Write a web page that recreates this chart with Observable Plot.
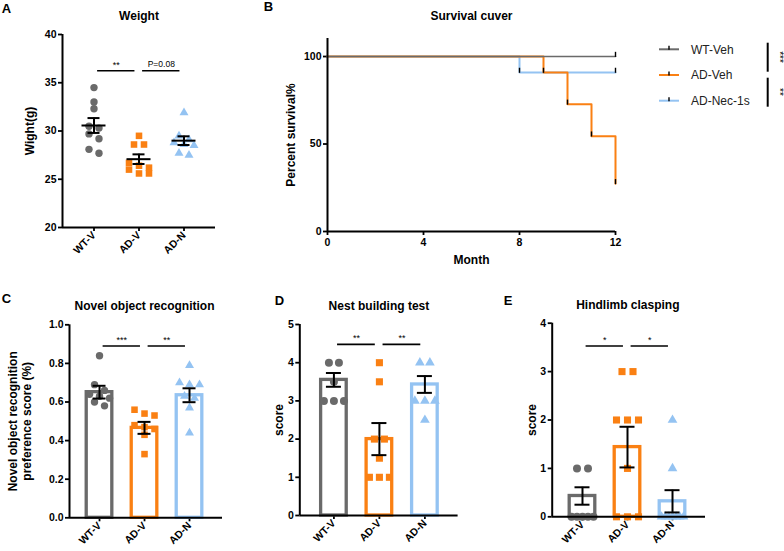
<!DOCTYPE html>
<html><head><meta charset="utf-8">
<script src="https://cdn.jsdelivr.net/npm/d3@7"></script>
<script src="https://cdn.jsdelivr.net/npm/@observablehq/plot@0.6"></script>
<style>
html,body{margin:0;padding:0;background:#fff;}
#fig{position:relative;width:784px;height:551px;overflow:hidden;background:#fff;font-family:"Liberation Sans",Arial,sans-serif;}
#fig .p{position:absolute;}
#fig svg{overflow:visible;max-width:none;}
#fig g[aria-label*="axis"] path,#fig g[aria-label*="axis"] line{stroke-width:1.8px;}
</style></head>
<body><div id="fig"></div>
<script>
// ---------- shared categories / styles ----------
const groups = ["WT-V", "AD-V", "AD-N"];
const colors = ["#6a6a6a", "#fa8013", "#94c3f2"];
const symbols = ["circle", "square", "triangle"];

// ---------- A: Weight ----------
const weightWT  = [34.5, 33.0, 32.3, 30.5, 30.3, 29.7, 29.2, 28.1, 27.7];
const weightADV = [29.5, 28.6, 28.6, 26.7, 26.4, 26.2, 26.0, 25.6, 25.6];
const weightADN = [31.9, 29.5, 29.1, 28.8, 28.6, 28.5, 27.7, 27.5];
const weightMean = [30.57, 27.08, 29.0];
const weightSem  = [0.77, 0.50, 0.45];
const weightTicks = [20, 25, 30, 35, 40];
const weightSig = [{from: 0, to: 1, label: "**"}, {from: 1, to: 2, label: "P=0.08"}];
const weightSigY = 36.25;

// ---------- B: Survival ----------
const survSeries = ["WT-Veh", "AD-Veh", "AD-Nec-1s"];
const survColors = ["#6a6a6a", "#fa8013", "#94c3f2"];
const survMonthWT  = [0, 12];
const survPctWT    = [100, 100];
const survMonthADV = [0, 9, 10, 11, 12];
const survPctADV   = [100, 90.9, 72.7, 54.5, 27.3];
const survMonthADN = [0, 8, 12];
const survPctADN   = [100, 90.9, 90.9];
const survXTicks = [0, 4, 8, 12];
const survYTicks = [0, 50, 100];
const survSigLabels = ["***", "**"];

// ---------- C: Novel object recognition ----------
const norWT  = [0.84, 0.69, 0.66, 0.64, 0.63, 0.62, 0.60, 0.58];
const norADV = [0.56, 0.54, 0.53, 0.48, 0.47, 0.46, 0.43, 0.33];
const norADN = [0.79, 0.70, 0.69, 0.69, 0.63, 0.62, 0.57, 0.44];
const norMean = [0.651, 0.466, 0.635];
const norSem  = [0.033, 0.031, 0.036];
const norTicks = [0, 0.2, 0.4, 0.6, 0.8, 1.0];
const norSig = [{from: 0, to: 1, label: "***"}, {from: 1, to: 2, label: "**"}];
const norSigY = 0.89;

// ---------- D: Nest building ----------
const nestWT  = [4, 4, 3.5, 3, 3, 3];
const nestADV = [4, 3.5, 2, 2, 1.5, 1, 1, 1];
const nestADN = [4, 4, 3, 3, 3, 2.5];
const nestMean = [3.55, 2.0, 3.43];
const nestSem  = [0.18, 0.42, 0.22];
const nestTicks = [0, 1, 2, 3, 4, 5];
const nestSig = [{from: 0, to: 1, label: "**"}, {from: 1, to: 2, label: "**"}];
const nestSigY = 4.48;

// ---------- E: Hindlimb clasping ----------
const claspWT  = [1, 1, 0, 0, 0, 0, 0];
const claspADV = [3, 3, 2, 2, 2, 1, 0, 0, 0];
const claspADN = [2, 1, 0, 0, 0, 0, 0, 0, 0];
const claspMean = [0.43, 1.44, 0.32];
const claspSem  = [0.18, 0.42, 0.23];
const claspTicks = [0, 1, 2, 3, 4];
const claspSig = [{from: 0, to: 1, label: "*"}, {from: 1, to: 2, label: "*"}];
const claspSigY = 3.53;

const FONT = "'Liberation Sans', Arial, Helvetica, sans-serif";
const root = document.getElementById("fig");
function place(el, left, top, w, h) {
  const d = document.createElement("div");
  d.className = "p";
  d.style.left = left + "px"; d.style.top = top + "px";
  d.style.width = w + "px"; d.style.height = h + "px";
  d.appendChild(el); root.appendChild(d);
}

// row-based scatter layout (like column scatter): points grouped into rows by value,
// each row centred on the category; returns x offsets in data units
function swarm(vals, yPx, xPx, r, step, maxRow) {
  const sorted = vals.slice().sort((a, b) => b - a);
  const rows = [];
  const thr = 1.8 * r;
  for (const v of sorted) {
    const last = rows[rows.length - 1];
    if (last && (last[0] - v) * yPx < thr) last.push(v); else rows.push([v]);
  }
  const out = [];
  for (const row of rows) {
    const n = row.length;
    const st = n > 1 ? Math.min(step, maxRow / (n - 1)) : 0;
    row.forEach((v, j) => out.push({v, off: ((j - (n - 1) / 2) * st) / xPx}));
  }
  return out;
}

function scatterPanel(c) {
  const xPx = (c.width - c.mLeft - c.mRight) / (c.xDomain[1] - c.xDomain[0]);
  const yPx = (c.height - c.mTop - c.mBottom) / (c.yDomain[1] - c.yDomain[0]);
  const stats = groups.map((g, i) => ({i, mean: c.means[i], sem: c.sems[i]}));
  const marks = [];
  if (c.bars) {
    const bh = 12.8 / xPx;
    marks.push(Plot.rectY(stats, {x1: d => d.i - bh, x2: d => d.i + bh, y1: c.yDomain[0], y2: "mean",
      fill: "white", stroke: d => colors[d.i], strokeWidth: 3.3}));
  }
  c.series.forEach((vals, gi) => {
    const pts = swarm(vals, yPx, xPx, c.r, c.step, c.maxRow).map(p => ({x: gi + p.off, y: p.v}));
    marks.push(Plot.dot(pts, {x: "x", y: "y", r: gi === 2 ? c.r * 0.9 : c.r, symbol: symbols[gi], fill: colors[gi], stroke: "none"}));
  });
  if (!c.bars) {
    const mh = 12 / xPx;
    marks.push(Plot.ruleY(stats, {y: "mean", x1: d => d.i - mh, x2: d => d.i + mh, stroke: "black", strokeWidth: 2}));
  }
  const ch = c.capPx / xPx;
  marks.push(Plot.ruleX(stats, {x: "i", y1: d => d.mean - d.sem, y2: d => d.mean + d.sem, stroke: "black", strokeWidth: 2}));
  marks.push(Plot.ruleY(stats, {y: d => d.mean + d.sem, x1: d => d.i - ch, x2: d => d.i + ch, stroke: "black", strokeWidth: 2}));
  marks.push(Plot.ruleY(stats, {y: d => d.mean - d.sem, x1: d => d.i - ch, x2: d => d.i + ch, stroke: "black", strokeWidth: 2}));
  // significance
  marks.push(Plot.ruleY(c.sig, {y: () => c.sigY, x1: d => d.from + 0.08, x2: d => d.to - 0.09, stroke: "black", strokeWidth: 1.6}));
  marks.push(Plot.text(c.sig, {x: d => (d.from + d.to) / 2 - 0.005, y: () => c.sigY, dy: -6, text: "label",
    fontSize: d => d.label.startsWith("P") ? 8.5 : 9, fontWeight: "normal", fill: "black"}));
  // axis lines
  marks.push(Plot.ruleY([c.yDomain[0]], {stroke: "black", strokeWidth: 2}));
  marks.push(Plot.ruleX([c.xDomain[0]], {stroke: "black", strokeWidth: 2}));
  // titles / labels
  marks.push(Plot.text([c.title], {frameAnchor: "top", dx: c.titleDx, dy: c.titleDy, text: d => d, fontSize: 12, fontWeight: "bold", fill: "black", textAnchor: "middle"}));
  marks.push(Plot.text([c.ylabel], {frameAnchor: "left", dx: c.ylabelDx, rotate: -90, text: d => d, fontSize: 12, fontWeight: "bold", fill: "black", lineHeight: 1.2, textAnchor: "middle", lineAnchor: "middle"}));
  marks.push(Plot.text([c.letter], {frameAnchor: "top-left", dx: c.letterDx, dy: c.letterDy, text: d => d, fontSize: 13, fontWeight: "bold", fill: "black", textAnchor: "middle", lineAnchor: "middle"}));
  const plot = Plot.plot({
    width: c.width, height: c.height,
    marginLeft: c.mLeft, marginRight: c.mRight, marginTop: c.mTop, marginBottom: c.mBottom,
    style: {fontFamily: FONT, fontSize: "10.5px", fontWeight: "bold", color: "black", background: "transparent", overflow: "visible"},
    x: {domain: c.xDomain, ticks: [0, 1, 2], tickFormat: i => groups[i], tickRotate: -45, tickSize: 4, tickPadding: 2, label: null},
    y: {domain: c.yDomain, ticks: c.yTicks, tickFormat: c.yFmt, tickSize: 4, tickPadding: 2, label: null},
    marks
  });
  place(plot, c.left, c.top, c.width, c.height);
}

// A
scatterPanel({left: 0, top: 0, width: 230, height: 280, mLeft: 62, mRight: 15, mTop: 34, mBottom: 53,
  xDomain: [-0.7, 2.7], yDomain: [20, 40], yTicks: weightTicks, yFmt: d => d,
  series: [weightWT, weightADV, weightADN], means: weightMean, sems: weightSem, bars: false,
  r: 3.7, step: 10, maxRow: 22, capPx: 6, sig: weightSig, sigY: weightSigY,
  title: "Weight", titleDx: 0, titleDy: -23, ylabel: "Wight(g)", ylabelDx: -33,
  letter: "A", letterDx: -56, letterDy: -26});

// C
scatterPanel({left: 0, top: 285, width: 240, height: 266, mLeft: 69, mRight: 18, mTop: 39.3, mBottom: 33.7,
  xDomain: [-0.667, 2.733], yDomain: [0, 1], yTicks: norTicks, yFmt: d3.format(".1f"),
  series: [norWT, norADV, norADN], means: norMean, sems: norSem, bars: true,
  r: 3.7, step: 10, maxRow: 22, capPx: 6.5, sig: norSig, sigY: norSigY,
  title: "Novel object recognition", titleDx: -1.5, titleDy: -23.6,
  ylabel: "Novel object recognition\npreference score (%)", ylabelDx: -50,
  letter: "C", letterDx: -63, letterDy: -26.3});

// D
scatterPanel({left: 250, top: 285, width: 240, height: 266, mLeft: 49.3, mRight: 32.4, mTop: 39, mBottom: 36,
  xDomain: [-0.75, 2.73], yDomain: [0, 5], yTicks: nestTicks, yFmt: d => d,
  series: [nestWT, nestADV, nestADN], means: nestMean, sems: nestSem, bars: true,
  r: 4, step: 10, maxRow: 22, capPx: 7.5, sig: nestSig, sigY: nestSigY,
  title: "Nest building test", titleDx: 0, titleDy: -23.3, ylabel: "score", ylabelDx: -21.3,
  letter: "D", letterDx: -20.3, letterDy: -24});

// E
scatterPanel({left: 500, top: 285, width: 284, height: 266, mLeft: 51.7, mRight: 79, mTop: 37.7, mBottom: 34.7,
  xDomain: [-0.673, 2.733], yDomain: [0, 4], yTicks: claspTicks, yFmt: d => d,
  series: [claspWT, claspADV, claspADN], means: claspMean, sems: claspSem, bars: true,
  r: 4, step: 11, maxRow: 22, capPx: 7.5, sig: claspSig, sigY: claspSigY,
  title: "Hindlimb clasping", titleDx: -1, titleDy: -22.7, ylabel: "score", ylabelDx: -20.7,
  letter: "E", letterDx: -44.2, letterDy: -22.7});

// B survival
(function () {
  const months = [survMonthWT, survMonthADV, survMonthADN];
  const pcts = [survPctWT, survPctADV, survPctADN];
  const series = survSeries.map((name, s) => months[s].map((t, k) => ({s, name, t, p: pcts[s][k]})));
  const censor = series.flat().filter(d => d.t > 0);
  const drawOrder = [2, 1, 0];
  const yMax = 110.3;
  const marks = [];
  drawOrder.forEach(s => marks.push(Plot.line(series[s], {x: "t", y: "p", curve: "step-after",
    stroke: survColors[s], strokeWidth: s === 0 ? 1.6 : 2})));
  marks.push(Plot.ruleX(censor, {x: "t", y1: d => d.p - 0.5, y2: d => d.p + 2.4, stroke: "black", strokeWidth: 1.4}));
  marks.push(Plot.ruleY([0], {stroke: "black", strokeWidth: 2}));
  marks.push(Plot.ruleX([0], {stroke: "black", strokeWidth: 2}));
  marks.push(Plot.text(["Survival cuver"], {frameAnchor: "top", dy: -27, text: d => d, fontSize: 12, fontWeight: "bold", fill: "black", textAnchor: "middle"}));
  marks.push(Plot.text(["Percent survival%"], {frameAnchor: "left", dx: -36, rotate: -90, text: d => d, fontSize: 12, fontWeight: "bold", fill: "black", textAnchor: "middle", lineAnchor: "middle"}));
  marks.push(Plot.text(["Month"], {frameAnchor: "bottom", dy: 32, text: d => d, fontSize: 12, fontWeight: "bold", fill: "black", textAnchor: "middle"}));
  marks.push(Plot.text(["B"], {frameAnchor: "top-left", dx: -59, dy: -32, text: d => d, fontSize: 13, fontWeight: "bold", fill: "black", textAnchor: "middle", lineAnchor: "middle"}));
  const plot = Plot.plot({
    width: 544, height: 280, marginLeft: 87, marginRight: 169, marginTop: 38, marginBottom: 49,
    style: {fontFamily: FONT, fontSize: "10.5px", fontWeight: "bold", color: "black", background: "transparent", overflow: "visible"},
    x: {domain: [0, 12], ticks: survXTicks, tickSize: 4, tickPadding: 3, label: null},
    y: {domain: [0, yMax], ticks: survYTicks, tickSize: 4, tickPadding: 2, label: null},
    marks
  });
  place(plot, 240, 0, 544, 280);

  // legend + significance brackets
  const ns = "http://www.w3.org/2000/svg";
  const svg = document.createElementNS(ns, "svg");
  svg.setAttribute("width", 144); svg.setAttribute("height", 90);
  const rowY = [19.3, 45, 70.7];
  let html = "";
  survSeries.forEach((name, s) => {
    const y = rowY[s];
    html += `<line x1="19" x2="39" y1="${y}" y2="${y}" stroke="${survColors[s]}" stroke-width="2"/>`;
    html += `<line x1="29" x2="29" y1="${y - 3.5}" y2="${y + 0.5}" stroke="black" stroke-width="1.4"/>`;
    html += `<text x="51" y="${y}" dy="0.35em" font-family="${FONT}" font-size="12" fill="#222">${name}</text>`;
  });
  html += `<line x1="127.7" x2="127.7" y1="12.7" y2="41.7" stroke="black" stroke-width="2"/>`;
  html += `<line x1="127.7" x2="127.7" y1="47.7" y2="76.7" stroke="black" stroke-width="2"/>`;
  html += `<text transform="translate(139,27) rotate(90)" text-anchor="middle" dy="0.35em" font-family="${FONT}" font-size="10" fill="black">${survSigLabels[0]}</text>`;
  html += `<text transform="translate(139,62) rotate(90)" text-anchor="middle" dy="0.35em" font-family="${FONT}" font-size="10" fill="black">${survSigLabels[1]}</text>`;
  svg.innerHTML = html;
  place(svg, 640, 30, 144, 90);
})();
</script></body></html>
